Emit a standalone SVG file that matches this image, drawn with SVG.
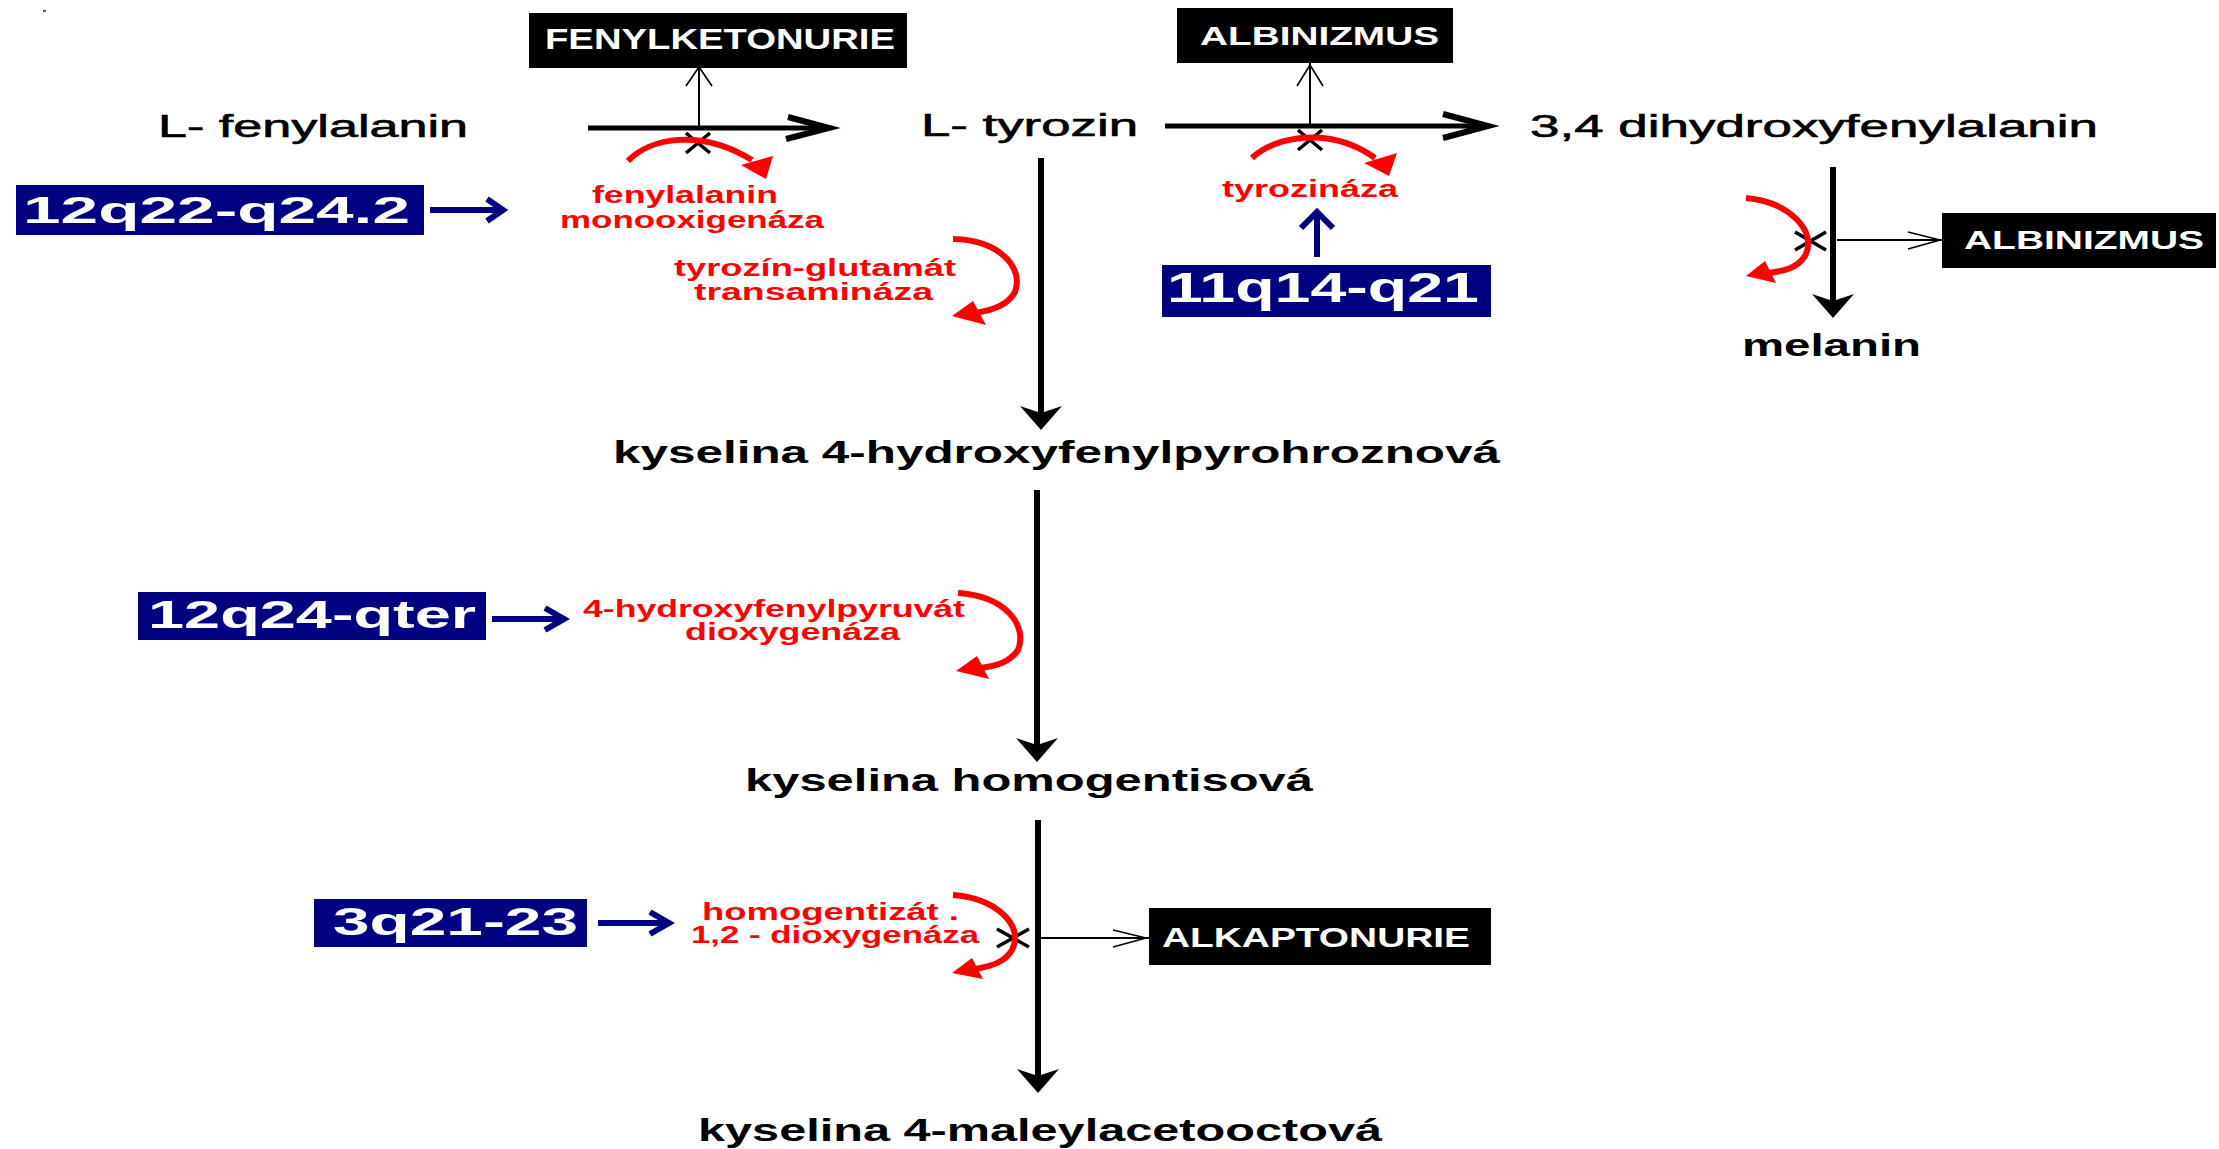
<svg xmlns="http://www.w3.org/2000/svg" width="2219" height="1149" viewBox="0 0 2219 1149">
<defs>
<style>
.bg{fill:#ffffff}
.t{font-family:"Liberation Sans",Arial,sans-serif;fill:#000}
.m{font-size:31px;stroke:#000;stroke-width:0.6}
.mb{font-size:31px;font-weight:bold}
.r{font-family:"Liberation Sans",Arial,sans-serif;font-size:23px;font-weight:bold;fill:#ff0000}
.dbox{fill:#000}
.gbox{fill:#000080}
.wt{font-family:"Liberation Sans",Arial,sans-serif;font-weight:bold;fill:#fff}
.thick{stroke:#000;stroke-width:5;fill:none}
.vthick{stroke:#000;stroke-width:6;fill:none}
.chev{stroke:#000;stroke-width:6;fill:none;stroke-linejoin:miter}
.thin{stroke:#000;stroke-width:2;fill:none}
.thinhead{stroke:#000;stroke-width:1.6;fill:none}
.xm{stroke:#000;stroke-width:3.5;fill:none}
.arc{stroke:#ff0000;stroke-width:6;fill:none}
.arch{fill:#ff0000}
.blue{stroke:#000080;stroke-width:6;fill:none}
</style>
<marker id="vhead" markerUnits="userSpaceOnUse" viewBox="-30 -25 45 50" refX="0" refY="0" markerWidth="45" markerHeight="50" orient="auto">
<path d="M-13,-21 L-6,0 L-13,21 L11,0 z" fill="#000"/>
</marker>
</defs>
<rect class="bg" x="0" y="0" width="2219" height="1149"/>
<rect x="43" y="10" width="3" height="2" fill="#555"/>

<g id="connectors">
<line class="thick" x1="588" y1="128" x2="824" y2="128"/>
<polyline class="chev" points="788,117 829,128 786,139"/>
<line class="thick" x1="1165" y1="126" x2="1483" y2="126"/>
<polyline class="chev" points="1443,114 1488,126 1443,138"/>
<line class="vthick" x1="1041" y1="158" x2="1041" y2="419" marker-end="url(#vhead)"/>
<line class="vthick" x1="1037" y1="490" x2="1037" y2="751" marker-end="url(#vhead)"/>
<line class="vthick" x1="1038" y1="820" x2="1038" y2="1082" marker-end="url(#vhead)"/>
<line class="vthick" x1="1833" y1="167" x2="1833" y2="307" marker-end="url(#vhead)"/>
<line class="thin" x1="699" y1="128" x2="699" y2="67"/>
<polyline class="thinhead" points="686,86 699,67 712,86"/>
<line class="thin" x1="1310" y1="126" x2="1310" y2="63"/>
<polyline class="thinhead" points="1297,86 1310,65 1323,86"/>
<line class="thin" x1="1837" y1="240" x2="1942" y2="240"/>
<polyline class="thinhead" points="1908,232 1940,240 1908,249"/>
<line class="thin" x1="1041" y1="938" x2="1149" y2="938"/>
<polyline class="thinhead" points="1113,930 1146,938 1113,947"/>
<path class="xm" d="M686,133 L710,153 M710,133 L686,153"/>
<path class="xm" d="M1298,130 L1322,150 M1322,130 L1298,150"/>
<path class="xm" d="M1795,232 L1826,250 M1826,232 L1795,250"/>
<path class="xm" d="M997,929 L1029,947 M1029,929 L997,947"/>
<path class="arc" d="M628,161 C650,138 700,128 752,160"/>
<polygon class="arch" points="741,165 773,156 766,179"/>
<path class="arc" d="M1252,158 C1275,136 1330,126 1375,158"/>
<polygon class="arch" points="1364,163 1397,153 1389,176"/>
<path class="arc" d="M953,239 C1000,240 1024,268 1015,292 C1008,305 993,310 975,313"/>
<polygon class="arch" points="973,301 986,325 952,316"/>
<path class="arc" d="M958,593 C1005,596 1028,625 1018,650 C1010,662 997,666 980,668"/>
<polygon class="arch" points="977,656 989,679 956,671"/>
<path class="arc" d="M953,895 C995,898 1025,925 1012,950 C1005,962 992,966 975,969"/>
<polygon class="arch" points="972,958 983,979 952,973"/>
<path class="arc" d="M1746,198 C1790,202 1818,232 1805,256 C1797,268 1785,271 1768,273"/>
<polygon class="arch" points="1765,261 1776,283 1746,276"/>
<line class="blue" x1="430" y1="210" x2="500" y2="210"/>
<polyline class="blue" points="487,199 503,210 487,221"/>
<line class="blue" x1="492" y1="619" x2="561" y2="619"/>
<polyline class="blue" points="545,608 564,619 545,630"/>
<line class="blue" x1="598" y1="923" x2="666" y2="923"/>
<polyline class="blue" points="650,912 669,923 650,934"/>
<line class="blue" x1="1317" y1="257" x2="1317" y2="215"/>
<polyline class="blue" points="1301,228 1317,212 1333,228"/>
</g>

<g id="n-fenylalanin"><text class="t m" x="158" y="137" textLength="310" lengthAdjust="spacingAndGlyphs">L- fenylalanin</text></g>
<g id="n-tyrozin"><text class="t m" x="921" y="136" textLength="217" lengthAdjust="spacingAndGlyphs">L- tyrozin</text></g>
<g id="n-dopa"><text class="t m" x="1530" y="137" textLength="568" lengthAdjust="spacingAndGlyphs">3,4 dihydroxyfenylalanin</text></g>
<g id="n-melanin"><text class="t mb" x="1742" y="356" textLength="179" lengthAdjust="spacingAndGlyphs">melanin</text></g>
<g id="n-hppa"><text class="t mb" x="613" y="463" textLength="887" lengthAdjust="spacingAndGlyphs">kyselina 4-hydroxyfenylpyrohroznová</text></g>
<g id="n-homogentis"><text class="t mb" x="745" y="791" textLength="568" lengthAdjust="spacingAndGlyphs">kyselina homogentisová</text></g>
<g id="n-maleylaceto"><text class="t mb" x="698" y="1141" textLength="684" lengthAdjust="spacingAndGlyphs">kyselina 4-maleylacetooctová</text></g>

<g id="e-pah">
<text class="r" x="592" y="203" textLength="186" lengthAdjust="spacingAndGlyphs">fenylalanin</text>
<text class="r" x="560" y="228" textLength="264" lengthAdjust="spacingAndGlyphs">monooxigenáza</text>
</g>
<g id="e-tat">
<text class="r" x="674" y="276" textLength="282" lengthAdjust="spacingAndGlyphs">tyrozín-glutamát</text>
<text class="r" x="694" y="300" textLength="239" lengthAdjust="spacingAndGlyphs">transamináza</text>
</g>
<g id="e-tyr"><text class="r" x="1222" y="197" textLength="176" lengthAdjust="spacingAndGlyphs">tyrozináza</text></g>
<g id="e-hppd">
<text class="r" x="583" y="617" textLength="382" lengthAdjust="spacingAndGlyphs">4-hydroxyfenylpyruvát</text>
<text class="r" x="685" y="640" textLength="215" lengthAdjust="spacingAndGlyphs">dioxygenáza</text>
</g>
<g id="e-hgd">
<text class="r" x="702" y="920" textLength="257" lengthAdjust="spacingAndGlyphs">homogentizát .</text>
<text class="r" x="691" y="943" textLength="288" lengthAdjust="spacingAndGlyphs">1,2 - dioxygenáza</text>
</g>

<g id="d-fenylketonurie">
<rect class="dbox" x="529" y="13" width="378" height="55"/>
<text class="wt" x="545" y="49" font-size="29" textLength="350" lengthAdjust="spacingAndGlyphs">FENYLKETONURIE</text>
</g>
<g id="d-albinizmus1">
<rect class="dbox" x="1177" y="8" width="276" height="55"/>
<text class="wt" x="1200" y="45" font-size="26" textLength="239" lengthAdjust="spacingAndGlyphs">ALBINIZMUS</text>
</g>
<g id="d-albinizmus2">
<rect class="dbox" x="1942" y="213" width="274" height="55"/>
<text class="wt" x="1964" y="249" font-size="26" textLength="240" lengthAdjust="spacingAndGlyphs">ALBINIZMUS</text>
</g>
<g id="d-alkaptonurie">
<rect class="dbox" x="1149" y="908" width="342" height="57"/>
<text class="wt" x="1162" y="947" font-size="27" textLength="308" lengthAdjust="spacingAndGlyphs">ALKAPTONURIE</text>
</g>

<g id="g-12q22">
<rect class="gbox" x="16" y="185" width="408" height="50"/>
<text class="wt" x="23" y="223" font-size="36" textLength="387" lengthAdjust="spacingAndGlyphs">12q22-q24.2</text>
</g>
<g id="g-11q14">
<rect class="gbox" x="1162" y="265" width="329" height="52"/>
<text class="wt" x="1167" y="302" font-size="42" textLength="312" lengthAdjust="spacingAndGlyphs">11q14-q21</text>
</g>
<g id="g-12q24">
<rect class="gbox" x="138" y="592" width="348" height="48"/>
<text class="wt" x="148" y="628" font-size="39" textLength="328" lengthAdjust="spacingAndGlyphs">12q24-qter</text>
</g>
<g id="g-3q21">
<rect class="gbox" x="314" y="899" width="273" height="48"/>
<text class="wt" x="333" y="935" font-size="39" textLength="245" lengthAdjust="spacingAndGlyphs">3q21-23</text>
</g>
</svg>
